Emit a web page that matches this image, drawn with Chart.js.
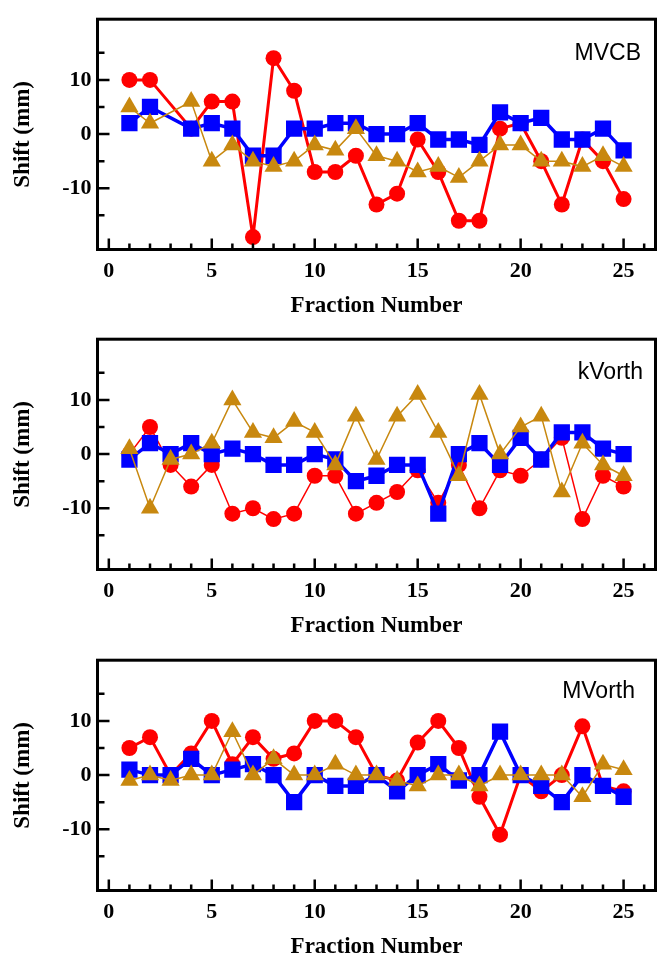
<!DOCTYPE html>
<html>
<head>
<meta charset="utf-8">
<script src="https://cdn.jsdelivr.net/npm/chart.js@4.4.1/dist/chart.umd.min.js"></script>
<style>
  html, body { margin: 0; padding: 0; background: #ffffff; }
  body { width: 671px; height: 969px; position: relative; overflow: hidden; }
  canvas { position: absolute; left: 0; }
</style>
</head>
<body>
<canvas id="c1" width="671" height="320" style="top:0px"></canvas>
<canvas id="c2" width="671" height="320" style="top:320px"></canvas>
<canvas id="c3" width="671" height="320" style="top:641px"></canvas>
<script>
// ---------------- data ----------------
const fractions = [1,2,3,4,5,6,7,8,9,10,11,12,13,14,15,16,17,18,19,20,21,22,23,24,25];

const mvcbCircle   = [10,10,null,1,6,6,-19,14,8,-7,-7,-4,-13,-11,-1,-7,-16,-16,1,2,-5,-13,-1,-5,-12];
const mvcbSquare   = [2,5,null,1,2,1,-4,-4,1,1,2,2,0,0,2,-1,-1,-2,4,2,3,-1,-1,1,-3];
const mvcbTriangle = [5,2,null,6,-5,-2,-5,-6,-5,-2,-3,1,-4,-5,-7,-6,-8,-5,-2,-2,-5,-5,-6,-4,-6];

const kvorthCircle   = [0,5,-2,-6,-2,-11,-10,-12,-11,-4,-4,-11,-9,-7,-3,-9,-2,-10,-3,-4,-1,3,-12,-4,-6];
const kvorthSquare   = [-1,2,0,2,0,1,0,-2,-2,0,-1,-5,-4,-2,-2,-11,0,2,-2,3,-1,4,4,1,0];
const kvorthTriangle = [1,-10,-1,0,2,10,4,3,6,4,-2,7,-1,7,11,4,-4,11,0,5,7,-7,2,-2,-4];

const mvorthCircle   = [5,7,0,4,10,2,7,3,4,10,10,7,0,-1,6,10,5,-4,-11,0,-3,0,9,-2,-3];
const mvorthSquare   = [1,0,0,3,0,1,2,0,-5,0,-2,-2,0,-3,0,2,-1,0,8,0,-2,-5,0,-2,-4];
const mvorthTriangle = [-1,0,-1,0,0,8,0,3,0,0,2,0,0,-1,-2,0,0,-2,0,0,0,0,-4,2,1];

const xTickValues = [0,1,2,3,4,5,6,7,8,9,10,11,12,13,14,15,16,17,18,19,20,21,22,23,24,25,26];
const xTickLabels = [0,5,10,15,20,25];
const yTickValues = [-15,-10,-5,0,5,10,15];
const yTickLabels = [-10,0,10];

const panelNames = ['MVCB', 'kVorth', 'MVorth'];
// ---------------------------------------

const RED = '#FF0000', BLUE = '#0000FF', GOLD = '#C8880F';
const serifBold = (size) => ({ family: '"Liberation Serif", "Times New Roman", serif', weight: 'bold', size: size, lineHeight: 1.2 });

const framePlugin = {
  id: 'frame',
  afterDatasetsDraw(chart, args, opts) {
    const { ctx, chartArea: a, scales: { x, y } } = chart;
    ctx.save();
    ctx.strokeStyle = '#000';
    ctx.lineWidth = 3;
    ctx.strokeRect(a.left, a.top, a.right - a.left, a.bottom - a.top);
    ctx.lineWidth = 2.5;
    ctx.beginPath();
    x.ticks.forEach(t => {
      const px = x.getPixelForValue(t.value);
      const len = (t.value % 5 === 0) ? 11 : 6;
      ctx.moveTo(px, a.bottom);
      ctx.lineTo(px, a.bottom - len);
    });
    y.ticks.forEach(t => {
      const py = y.getPixelForValue(t.value);
      const len = (t.value % 10 === 0) ? 12 : 7;
      ctx.moveTo(a.left, py);
      ctx.lineTo(a.left + len, py);
    });
    ctx.stroke();
    ctx.font = '23px "Liberation Sans", Arial, sans-serif';
    ctx.textAlign = 'right';
    ctx.textBaseline = 'alphabetic';
    ctx.fillStyle = '#000';
    ctx.fillText(opts.text, a.right - opts.dx, a.top + opts.dy);
    ctx.restore();
  }
};

function pts(vals) {
  return vals.map((v, i) => ({ x: fractions[i], y: v }));
}

function makeChart(id, name, circle, square, triangle, redWidth, labelDx, labelDy) {
  new Chart(document.getElementById(id), {
    type: 'line',
    data: {
      datasets: [
        {
          data: pts(circle), order: 2, spanGaps: true, tension: 0,
          borderColor: RED, backgroundColor: RED, borderWidth: redWidth,
          pointStyle: 'circle', pointRadius: 8, pointBorderWidth: 0,
          pointBackgroundColor: RED
        },
        {
          data: pts(square), order: 1, spanGaps: true, tension: 0,
          borderColor: BLUE, backgroundColor: BLUE, borderWidth: 3.5,
          pointStyle: 'rect', pointRadius: 11.5, pointBorderWidth: 0,
          pointBackgroundColor: BLUE
        },
        {
          data: pts(triangle), order: 0, spanGaps: true, tension: 0,
          borderColor: GOLD, backgroundColor: GOLD, borderWidth: 1.5,
          pointStyle: 'triangle', pointRadius: 10.5, pointBorderWidth: 0,
          pointBackgroundColor: GOLD
        }
      ]
    },
    options: {
      responsive: false,
      animation: false,
      events: [],
      devicePixelRatio: 1,
      layout: { padding: { left: 0, top: 14, right: 15.5, bottom: 0 } },
      plugins: {
        legend: { display: false },
        tooltip: { enabled: false },
        frame: { text: name, dx: labelDx, dy: labelDy }
      },
      scales: {
        x: {
          type: 'linear', min: -0.55, max: 26.55,
          grid: { display: false, drawTicks: false },
          border: { display: false },
          afterBuildTicks: s => { s.ticks = xTickValues.map(v => ({ value: v })); },
          afterFit: s => { s.height = 70.5; },
          ticks: {
            autoSkip: false, maxRotation: 0, minRotation: 0, padding: 9,
            color: '#000', font: serifBold(22),
            callback: v => xTickLabels.includes(v) ? String(v) : ''
          },
          title: {
            display: true, text: 'Fraction Number', color: '#000',
            font: { family: '"Liberation Serif", "Times New Roman", serif', weight: 'bold', size: 23, lineHeight: 1 },
            padding: { top: 0, bottom: 2.5 }
          }
        },
        y: {
          type: 'linear', min: -21.3, max: 21.2,
          grid: { display: false, drawTicks: false },
          border: { display: false },
          afterBuildTicks: s => { s.ticks = yTickValues.map(v => ({ value: v })); },
          afterFit: s => { s.width = 97.5; },
          ticks: {
            autoSkip: false, padding: 6, color: '#000', font: serifBold(22),
            callback: v => yTickLabels.includes(v) ? String(v) : ''
          },
          title: {
            display: true, text: 'Shift (mm)', color: '#000',
            font: { family: '"Liberation Serif", "Times New Roman", serif', weight: 'bold', size: 23, lineHeight: 1 },
            padding: { top: 11.5, bottom: 0 }
          }
        }
      }
    },
    plugins: [framePlugin]
  });
}

makeChart('c1', panelNames[0], mvcbCircle, mvcbSquare, mvcbTriangle, 3, 14.5, 41);
makeChart('c2', panelNames[1], kvorthCircle, kvorthSquare, kvorthTriangle, 1.5, 12.5, 40);
makeChart('c3', panelNames[2], mvorthCircle, mvorthSquare, mvorthTriangle, 3, 20.5, 38);
</script>
</body>
</html>
